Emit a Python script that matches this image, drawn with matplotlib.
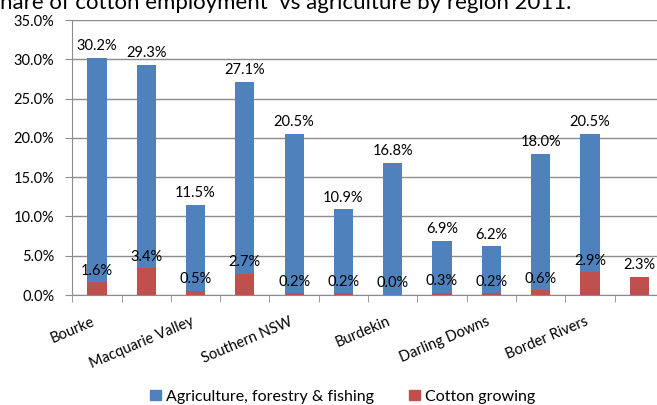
import numpy as np
import matplotlib
matplotlib.use("Agg")
import matplotlib.pyplot as plt
from matplotlib.ticker import FuncFormatter, FixedLocator

# Data (percent of employment)
regions = ["Bourke", "", "Macquarie Valley", "", "Southern NSW", "",
           "Burdekin", "", "Darling Downs", "", "Border Rivers", ""]
agriculture = [30.2, 29.3, 11.5, 27.1, 20.5, 10.9, 16.8, 6.9, 6.2, 18.0, 20.5, None]
cotton = [1.6, 3.4, 0.5, 2.7, 0.2, 0.2, 0.0, 0.3, 0.2, 0.6, 2.9, 2.3]

plt.rcParams["font.family"] = ["Lato", "DejaVu Sans"]

blue = "#4F81BD"
red = "#C0504D"
grid_col = "#8C8C8C"

fig = plt.figure(figsize=(6.57, 4.05), dpi=100)
# plot area runs past the right edge, as in the cropped original
ax = fig.add_axes([0.110, 0.2716, 0.9005, 0.679])

x = np.arange(len(regions))
agri_vals = [v if v is not None else 0 for v in agriculture]
width = 0.39

ax.bar(x, agri_vals, width=width, color=blue, zorder=2)
ax.bar(x, cotton, width=width, color=red, zorder=3)

# value labels
for xi, v in zip(x, agriculture):
    if v is not None:
        ax.text(xi, v + 0.6, f"{v:.1f}%", ha="center", va="bottom", fontsize=10.5, zorder=4)
for xi, v in zip(x, cotton):
    ax.text(xi, v + 0.6, f"{v:.1f}%", ha="center", va="bottom", fontsize=10.5, zorder=4)

ax.set_xlim(-0.5, len(regions) - 0.5)
ax.set_ylim(0, 35)
ax.set_yticks(np.arange(0, 35.1, 5))
ax.yaxis.set_major_formatter(FuncFormatter(lambda v, p: f"{v:.1f}%"))
ax.yaxis.grid(True, color=grid_col, linewidth=1, zorder=0)
ax.set_axisbelow(True)

ax.set_xticks(x)
ax.set_xticklabels(regions, rotation=23, ha="right", fontsize=10.5)
ax.tick_params(axis="x", which="major", length=0, pad=14)
ax.xaxis.set_minor_locator(FixedLocator(np.arange(-0.5, len(regions), 1)))
ax.tick_params(axis="x", which="minor", length=5, color=grid_col)
ax.tick_params(axis="y", length=5, color=grid_col, labelsize=10.5, pad=8)

for side in ["top", "right"]:
    ax.spines[side].set_visible(False)
ax.spines["left"].set_color(grid_col)
ax.spines["bottom"].set_color(grid_col)

handles = [plt.Rectangle((0, 0), 1, 1, color=blue), plt.Rectangle((0, 0), 1, 1, color=red)]
fig.legend(handles, ["Agriculture, forestry & fishing", "Cotton growing"],
           loc="lower center", bbox_to_anchor=(0.522, -0.032), ncol=2, frameon=False,
           fontsize=11.5, handlelength=0.65, handleheight=0.65, handletextpad=0.35,
           columnspacing=2.2)

fig.text(-0.019, 0.978, "Share of cotton employment  vs agriculture by region 2011.",
         fontsize=16, ha="left", va="baseline")

fig.savefig("out.png", dpi=100)
